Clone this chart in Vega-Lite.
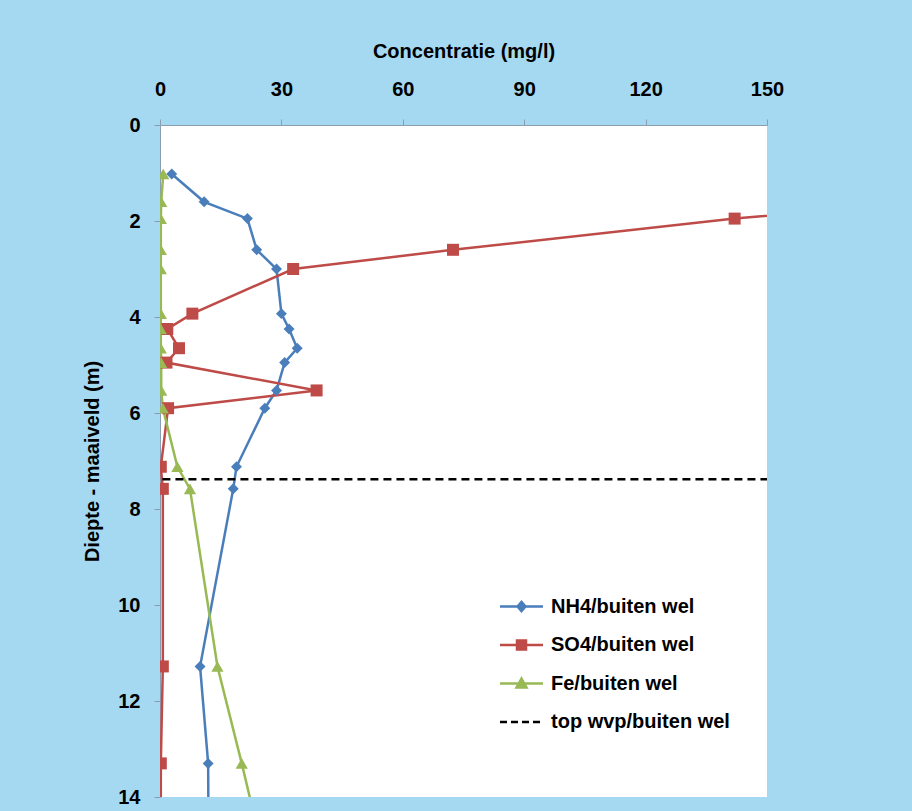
{
  "$schema": "https://vega.github.io/schema/vega-lite/v6.json",
  "width": 607,
  "height": 672,
  "autosize": {"type": "none"},
  "padding": {"left": 160, "top": 125, "right": 145, "bottom": 14},
  "background": "#A5D9F1",
  "config": {"view": {"fill": "#FFFFFF", "stroke": null}, "font": "Liberation Sans"},
  "datasets": {
    "profiles": [
      {"series": "NH4/buiten wel", "depth": 1.02, "conc": 2.9},
      {"series": "NH4/buiten wel", "depth": 1.6, "conc": 10.9},
      {"series": "NH4/buiten wel", "depth": 1.95, "conc": 21.6},
      {"series": "NH4/buiten wel", "depth": 2.6, "conc": 23.9},
      {"series": "NH4/buiten wel", "depth": 3.0, "conc": 28.8},
      {"series": "NH4/buiten wel", "depth": 3.93, "conc": 30.0},
      {"series": "NH4/buiten wel", "depth": 4.25, "conc": 31.9},
      {"series": "NH4/buiten wel", "depth": 4.65, "conc": 33.9},
      {"series": "NH4/buiten wel", "depth": 4.95, "conc": 30.8},
      {"series": "NH4/buiten wel", "depth": 5.53, "conc": 28.8},
      {"series": "NH4/buiten wel", "depth": 5.9, "conc": 25.9},
      {"series": "NH4/buiten wel", "depth": 7.12, "conc": 18.9},
      {"series": "NH4/buiten wel", "depth": 7.58, "conc": 18.1},
      {"series": "NH4/buiten wel", "depth": 11.28, "conc": 9.9},
      {"series": "NH4/buiten wel", "depth": 13.3, "conc": 11.9},
      {"series": "NH4/buiten wel", "depth": 15.0, "conc": 12.0},
      {"series": "SO4/buiten wel", "depth": 1.6, "conc": 189},
      {"series": "SO4/buiten wel", "depth": 1.95, "conc": 142},
      {"series": "SO4/buiten wel", "depth": 2.6, "conc": 72.4},
      {"series": "SO4/buiten wel", "depth": 3.0, "conc": 32.9},
      {"series": "SO4/buiten wel", "depth": 3.93, "conc": 8.0},
      {"series": "SO4/buiten wel", "depth": 4.25, "conc": 1.8},
      {"series": "SO4/buiten wel", "depth": 4.65, "conc": 4.7},
      {"series": "SO4/buiten wel", "depth": 4.95, "conc": 1.6},
      {"series": "SO4/buiten wel", "depth": 5.53, "conc": 38.7},
      {"series": "SO4/buiten wel", "depth": 5.9, "conc": 2.0},
      {"series": "SO4/buiten wel", "depth": 7.12, "conc": 0.2},
      {"series": "SO4/buiten wel", "depth": 7.58, "conc": 0.7},
      {"series": "SO4/buiten wel", "depth": 11.28, "conc": 0.7},
      {"series": "SO4/buiten wel", "depth": 13.3, "conc": 0.2},
      {"series": "SO4/buiten wel", "depth": 15.0, "conc": 0.2},
      {"series": "Fe/buiten wel", "depth": 1.02, "conc": 0.8},
      {"series": "Fe/buiten wel", "depth": 1.6, "conc": 0.3},
      {"series": "Fe/buiten wel", "depth": 1.95, "conc": 0.2},
      {"series": "Fe/buiten wel", "depth": 2.6, "conc": 0.2},
      {"series": "Fe/buiten wel", "depth": 3.0, "conc": 0.2},
      {"series": "Fe/buiten wel", "depth": 3.93, "conc": 0.2},
      {"series": "Fe/buiten wel", "depth": 4.25, "conc": 0.2},
      {"series": "Fe/buiten wel", "depth": 4.65, "conc": 0.2},
      {"series": "Fe/buiten wel", "depth": 4.95, "conc": 0.3},
      {"series": "Fe/buiten wel", "depth": 5.53, "conc": 0.3},
      {"series": "Fe/buiten wel", "depth": 5.9, "conc": 0.7},
      {"series": "Fe/buiten wel", "depth": 7.12, "conc": 4.3},
      {"series": "Fe/buiten wel", "depth": 7.58, "conc": 7.4},
      {"series": "Fe/buiten wel", "depth": 11.28, "conc": 14.2},
      {"series": "Fe/buiten wel", "depth": 13.3, "conc": 20.2},
      {"series": "Fe/buiten wel", "depth": 15.0, "conc": 25.0}
    ],
    "wvp": [
      {"series": "top wvp/buiten wel", "depth": 7.38, "conc": 0.6},
      {"series": "top wvp/buiten wel", "depth": 7.38, "conc": 150}
    ],
    "legendRows": [
      {"series": "NH4/buiten wel"},
      {"series": "SO4/buiten wel"},
      {"series": "Fe/buiten wel"},
      {"series": "top wvp/buiten wel"}
    ]
  },
  "encoding": {
    "x": {
      "field": "conc",
      "type": "quantitative",
      "scale": {"domain": [0, 150], "nice": false, "zero": false},
      "axis": {
        "orient": "top",
        "values": [0, 30, 60, 90, 120, 150],
        "title": "Concentratie (mg/l)",
        "titleFont": "Liberation Sans",
        "titleFontSize": 20,
        "titleFontWeight": "bold",
        "titleColor": "#000000",
        "titleBaseline": "alphabetic",
        "titleX": 303.5,
        "titleY": -68,
        "labelFont": "Liberation Sans",
        "labelFontSize": 20,
        "labelFontWeight": "bold",
        "labelColor": "#000000",
        "labelPadding": 20,
        "labelFlush": false,
        "labelOverlap": false,
        "tickSize": 6,
        "tickColor": "#8C9DB0",
        "domainColor": "#8C9DB0",
        "grid": false
      }
    },
    "y": {
      "field": "depth",
      "type": "quantitative",
      "scale": {"domain": [0, 14], "reverse": true, "nice": false, "zero": false},
      "axis": {
        "orient": "left",
        "values": [0, 2, 4, 6, 8, 10, 12, 14],
        "title": "Diepte - maaiveld (m)",
        "titleFont": "Liberation Sans",
        "titleFontSize": 20,
        "titleFontWeight": "bold",
        "titleColor": "#000000",
        "titleAngle": 270,
        "titleBaseline": "alphabetic",
        "titleX": -62,
        "titleY": 336,
        "labelFont": "Liberation Sans",
        "labelFontSize": 20,
        "labelFontWeight": "bold",
        "labelColor": "#000000",
        "labelPadding": 14,
        "labelFlush": false,
        "labelOverlap": false,
        "tickSize": 6,
        "tickColor": "#8C9DB0",
        "domainColor": "#8C9DB0",
        "grid": false
      }
    }
  },
  "layer": [
    {
      "data": {"name": "profiles"},
      "mark": {"type": "line", "clip": true, "strokeWidth": 2.5},
      "encoding": {
        "color": {
          "field": "series",
          "type": "nominal",
          "scale": {"domain": ["NH4/buiten wel", "SO4/buiten wel", "Fe/buiten wel"], "range": ["#4A7EBB", "#BE4B48", "#98B954"]},
          "legend": null
        },
        "order": {"field": "depth", "type": "quantitative"}
      }
    },
    {
      "data": {"name": "profiles"},
      "mark": {"type": "point", "filled": true, "clip": true, "opacity": 1},
      "encoding": {
        "color": {
          "field": "series",
          "type": "nominal",
          "scale": {"domain": ["NH4/buiten wel", "SO4/buiten wel", "Fe/buiten wel"], "range": ["#4A7EBB", "#BE4B48", "#98B954"]},
          "legend": null
        },
        "shape": {
          "field": "series",
          "type": "nominal",
          "scale": {"domain": ["NH4/buiten wel", "SO4/buiten wel", "Fe/buiten wel"], "range": ["diamond", "square", "triangle-up"]},
          "legend": null
        },
        "size": {
          "field": "series",
          "type": "nominal",
          "scale": {"type": "ordinal", "domain": ["NH4/buiten wel", "SO4/buiten wel", "Fe/buiten wel"], "range": [120, 144, 150]},
          "legend": null
        }
      }
    },
    {
      "data": {"name": "wvp"},
      "mark": {"type": "line", "clip": true, "color": "#000000", "strokeWidth": 2.5, "strokeDash": [8, 5]},
      "encoding": {}
    },
    {
      "data": {"name": "legendRows"},
      "mark": {"type": "point", "filled": true, "opacity": 1, "strokeWidth": 2.5},
      "encoding": {
        "fill": {
          "field": "series",
          "type": "nominal",
          "scale": {"domain": ["NH4/buiten wel", "SO4/buiten wel", "Fe/buiten wel", "top wvp/buiten wel"], "range": ["#4A7EBB", "#BE4B48", "#98B954", "#000000"]},
          "legend": {"title": null, "orient": "none", "legendX": 350, "legendY": 470, "padding": 0, "symbolSize": 400, "symbolStrokeWidth": 2.5, "symbolOpacity": 1, "labelFont": "Liberation Sans", "labelFontSize": 20, "labelFontWeight": "bold", "labelColor": "#000000", "labelOffset": 18, "rowPadding": 16.5, "labelLimit": 400}
        },
        "stroke": {
          "field": "series",
          "type": "nominal",
          "scale": {"domain": ["NH4/buiten wel", "SO4/buiten wel", "Fe/buiten wel", "top wvp/buiten wel"], "range": ["#4A7EBB", "#BE4B48", "#98B954", "#000000"]},
          "legend": {"title": null, "orient": "none", "legendX": 350, "legendY": 470, "padding": 0, "symbolSize": 400, "symbolStrokeWidth": 2.5, "symbolOpacity": 1, "labelFont": "Liberation Sans", "labelFontSize": 20, "labelFontWeight": "bold", "labelColor": "#000000", "labelOffset": 18, "rowPadding": 16.5, "labelLimit": 400}
        },
        "shape": {
          "field": "series",
          "type": "nominal",
          "scale": {"domain": ["NH4/buiten wel", "SO4/buiten wel", "Fe/buiten wel", "top wvp/buiten wel"], "range": ["M-2.15,0H2.15M-0.4,0L0,-0.45L0.4,0L0,0.45Z", "M-2.15,0H2.15M-0.45,-0.45H0.45V0.45H-0.45Z", "M-2.15,0H2.15M-0.5,0.4L0.5,0.4L0,-0.5Z", "M-2.15,0H-1.45M-1.05,0H-0.35M0.05,0H0.75M1.15,0H1.85"]},
          "legend": {"title": null, "orient": "none", "legendX": 350, "legendY": 470, "padding": 0, "symbolSize": 400, "symbolStrokeWidth": 2.5, "symbolOpacity": 1, "labelFont": "Liberation Sans", "labelFontSize": 20, "labelFontWeight": "bold", "labelColor": "#000000", "labelOffset": 18, "rowPadding": 16.5, "labelLimit": 400}
        }
      }
    }
  ],
  "resolve": {"scale": {"shape": "independent", "fill": "independent", "stroke": "independent"}}
}
